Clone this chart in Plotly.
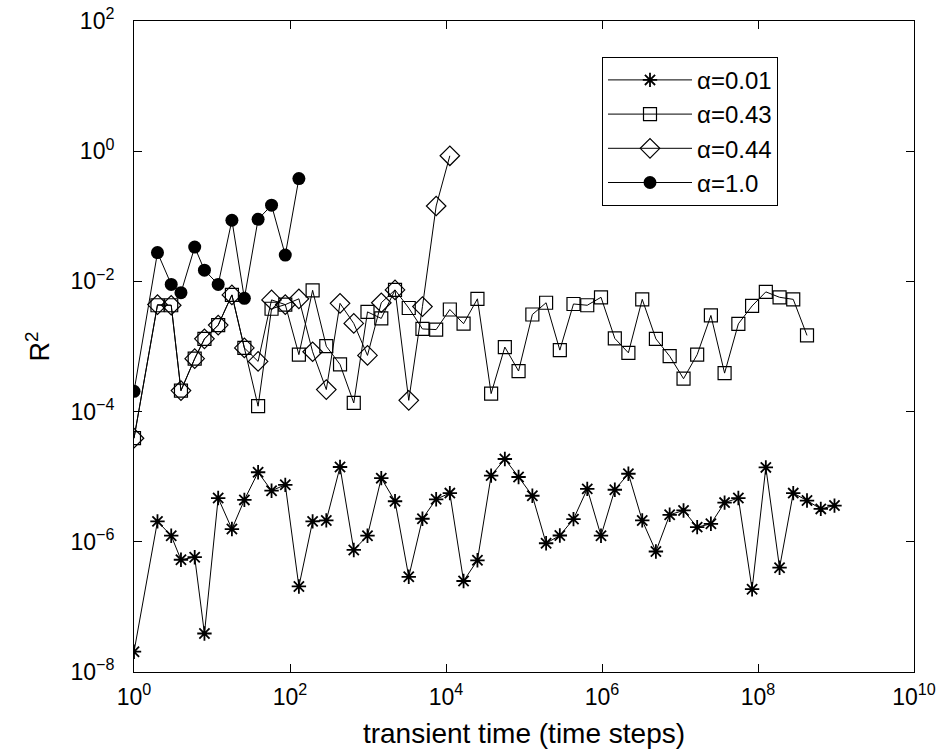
import plotly.graph_objects as go

# transient times (time steps)
t_steps = [1, 2, 3, 4, 6, 8, 12, 18, 26, 39, 58, 87, 130, 195, 292, 438, 657, 985,
           1480, 2220, 3330, 4990, 7480, 11200, 16800, 25300, 37900, 56800, 85200,
           128000, 192000, 288000, 431000, 647000, 971000, 1.46e6, 2.18e6, 3.28e6,
           4.91e6, 7.37e6, 1.11e7, 1.66e7, 2.49e7, 3.73e7, 5.60e7, 8.40e7, 1.26e8,
           1.89e8, 2.83e8, 4.25e8, 6.38e8, 9.56e8]

r2_a001 = [2.05e-8, 2.06e-6, 1.24e-6, 5.3e-7, 5.8e-7, 3.9e-8, 4.7e-6, 1.57e-6, 4.4e-6,
           1.17e-5, 6.1e-6, 7.5e-6, 2.06e-7, 2.06e-6, 2.13e-6, 1.41e-5, 7.5e-7, 1.24e-6,
           9.5e-6, 4.2e-6, 2.9e-7, 2.26e-6, 4.5e-6, 5.6e-6, 2.5e-7, 5.2e-7, 1.04e-5,
           1.87e-5, 9.9e-6, 5.1e-6, 9.5e-7, 1.25e-6, 2.23e-6, 6.5e-6, 1.24e-6, 6.3e-6,
           1.11e-5, 2.13e-6, 7.1e-7, 2.6e-6, 3.03e-6, 1.68e-6, 1.89e-6, 4.0e-6, 4.7e-6,
           1.87e-7, 1.39e-5, 4.0e-7, 5.6e-6, 4.3e-6, 3.2e-6, 3.6e-6]

r2_a043 = [3.9e-5, 4.3e-3, 4.3e-3, 2.1e-4, 6.5e-4, 1.31e-3, 2.13e-3, 6.2e-3, 9.5e-4,
           1.21e-4, 3.8e-3, 4.4e-3, 7.5e-4, 7.3e-3, 1.01e-3, 5.3e-4, 1.36e-4, 3.4e-3,
           2.7e-3, 7.4e-3, 3.9e-3, 1.86e-3, 1.82e-3, 3.7e-3, 2.24e-3, 5.4e-3, 1.89e-4,
           9.8e-4, 4.2e-4, 3.1e-3, 4.7e-3, 8.8e-4, 4.5e-3, 4.3e-3, 5.7e-3, 1.33e-3,
           8.0e-4, 5.3e-3, 1.31e-3, 7.1e-4, 3.2e-4, 7.5e-4, 3.0e-3, 3.9e-4, 2.23e-3,
           4.2e-3, 6.9e-3, 5.7e-3, 5.3e-3, 1.48e-3]

r2_a044 = [3.9e-5, 4.4e-3, 4.3e-3, 2.1e-4, 6.5e-4, 1.31e-3, 2.13e-3, 6.2e-3, 9.5e-4,
           5.9e-4, 5.2e-3, 4.4e-3, 5.4e-3, 8.3e-4, 2.18e-4, 4.6e-3, 2.26e-3, 7.3e-4,
           4.7e-3, 7.4e-3, 1.49e-4, 4.1e-3, 0.144, 0.85]

r2_a100 = [2.05e-4, 2.77e-2, 9.0e-3, 6.7e-3, 3.37e-2, 1.49e-2, 9.0e-3, 8.7e-2, 5.5e-3,
           9.0e-2, 0.148, 2.54e-2, 0.38]

x_tickvals = [1, 1e2, 1e4, 1e6, 1e8, 1e10]
x_ticktext = ["10<sup>0</sup>", "10<sup>2</sup>", "10<sup>4</sup>", "10<sup>6</sup>",
              "10<sup>8</sup>", "10<sup>10</sup>"]
y_tickvals = [1e-8, 1e-6, 1e-4, 1e-2, 1, 1e2]
y_ticktext = ["10<sup>−8</sup>", "10<sup>−6</sup>", "10<sup>−4</sup>", "10<sup>−2</sup>",
              "10<sup>0</sup>", "10<sup>2</sup>"]

FONT = "Liberation Sans, Arial, sans-serif"

series = [
    ("α=0.01", r2_a001, dict(symbol="asterisk-open", size=12, color="black",
                             line=dict(color="black", width=1.8))),
    ("α=0.43", r2_a043, dict(symbol="square-open", size=13, color="black",
                             line=dict(color="black", width=1.2))),
    ("α=0.44", r2_a044, dict(symbol="diamond-open", size=15, color="black",
                             line=dict(color="black", width=1.2))),
    ("α=1.0", r2_a100, dict(symbol="circle", size=13, color="black",
                            line=dict(color="black", width=0))),
]

fig = go.Figure()
for name, vals, mk in series:
    fig.add_trace(go.Scatter(x=t_steps[:len(vals)], y=vals, name=name,
                             mode="lines+markers", marker=mk,
                             line=dict(color="black", width=1)))

axis_common = dict(type="log", ticks="inside", ticklen=8, tickwidth=1, tickcolor="black",
                   showline=True, linecolor="black", linewidth=1, mirror="ticks",
                   showgrid=False, zeroline=False, automargin=False,
                   ticklabeloverflow="allow",
                   tickfont=dict(family=FONT, size=23, color="black"))

fig.update_xaxes(range=[0, 10], tickvals=x_tickvals, ticktext=x_ticktext, **axis_common,
                 ticklabelstandoff=4,
                 title=dict(text="transient time (time steps)", standoff=14,
                            font=dict(family=FONT, size=28, color="black")))
fig.update_yaxes(range=[-8, 2], tickvals=y_tickvals, ticktext=y_ticktext, **axis_common,
                 ticklabelstandoff=14,
                 title=dict(text="R<sup>2</sup>", standoff=12,
                            font=dict(family=FONT, size=27, color="black")))

fig.update_layout(
    width=936, height=753,
    margin=dict(l=134, r=22, t=21, b=81),
    paper_bgcolor="white", plot_bgcolor="white",
    showlegend=True,
    legend=dict(x=0.6, y=0.945, xanchor="left", yanchor="top",
                bgcolor="white", bordercolor="black", borderwidth=1,
                font=dict(family=FONT, size=24, color="black"),
                tracegroupgap=0, itemwidth=84),
)

# drop the default body margin so the figure sits flush in the window
fig.write_html("out.html", config={"displayModeBar": False},
               post_script="document.body.style.margin='0';")
